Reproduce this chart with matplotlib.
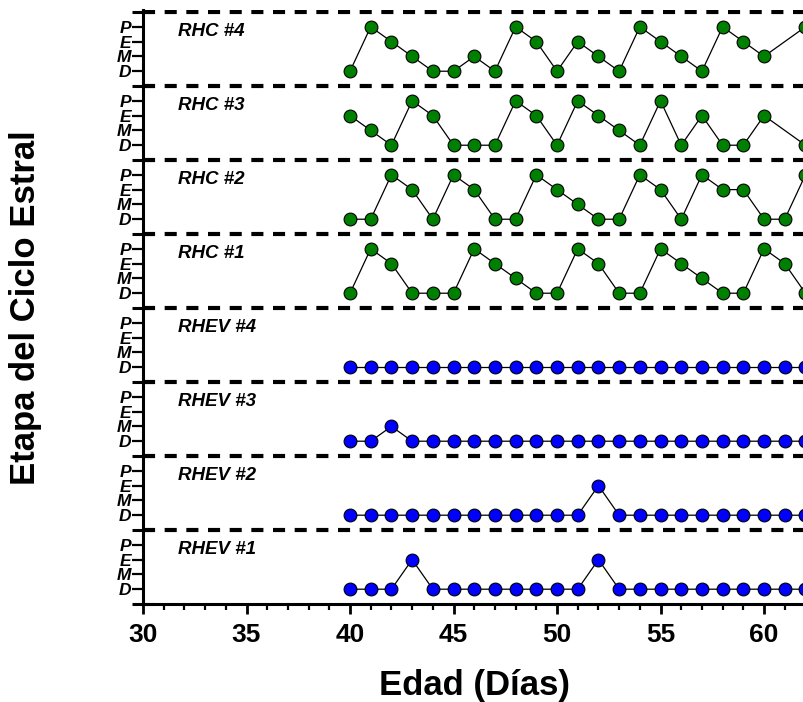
import numpy as np
import matplotlib
matplotlib.use("Agg")
import matplotlib.pyplot as plt

plt.rcParams['font.family'] = ['Liberation Sans', 'DejaVu Sans']

# days of observation and estrous stage per animal (None = no reading)
days = list(range(40, 63))
stages = ["D", "M", "E", "P"]

rhev_1 = ["D", "D", "D", "E", "D", "D", "D", "D", "D", "D", "D", "D", "E",
          "D", "D", "D", "D", "D", "D", "D", "D", "D", "D"]
rhev_2 = ["D", "D", "D", "D", "D", "D", "D", "D", "D", "D", "D", "D", "E",
          "D", "D", "D", "D", "D", "D", "D", "D", "D", "D"]
rhev_3 = ["D", "D", "M", "D", "D", "D", "D", "D", "D", "D", "D", "D", "D",
          "D", "D", "D", "D", "D", "D", "D", "D", "D", "D"]
rhev_4 = ["D"] * 23
rhc_1 = ["D", "P", "E", "D", "D", "D", "P", "E", "M", "D", "D", "P", "E",
         "D", "D", "P", "E", "M", "D", "D", "P", "E", "D"]
rhc_2 = ["D", "D", "P", "E", "D", "P", "E", "D", "D", "P", "E", "M", "D",
         "D", "P", "E", "D", "P", "E", "E", "D", "D", "P"]
rhc_3 = ["E", "M", "D", "P", "E", "D", "D", "D", "P", "E", "D", "P", "E",
         "M", "D", "P", "D", "E", "D", "D", "E", None, "D"]
rhc_4 = ["D", "P", "E", "M", "D", "D", "M", "D", "P", "E", "D", "E", "M",
         "D", "P", "E", "M", "D", "P", "E", "M", None, "P"]

# bottom to top
panels = [
    ("RHEV #1", rhev_1, "#0000ff"),
    ("RHEV #2", rhev_2, "#0000ff"),
    ("RHEV #3", rhev_3, "#0000ff"),
    ("RHEV #4", rhev_4, "#0000ff"),
    ("RHC #1", rhc_1, "#008000"),
    ("RHC #2", rhc_2, "#008000"),
    ("RHC #3", rhc_3, "#008000"),
    ("RHC #4", rhc_4, "#008000"),
]

fig = plt.figure(figsize=(8.04, 7.02), dpi=100)
ax = fig.add_axes([143 / 804, 1 - 604 / 702, 1 - 143 / 804, 594.2 / 702])

for i, (name, vals, color) in enumerate(panels):
    base = 5 * i
    x = [d for d, v in zip(days, vals) if v is not None]
    y = [base + 1 + stages.index(v) for v in vals if v is not None]
    ax.plot(x, y, color="black", lw=0.9, marker="o", ms=9.2,
            markerfacecolor=color, markeredgecolor="black", mew=0.8,
            clip_on=False, zorder=3)
    ax.text(31.7, base + 3.7, name, fontsize=13.5, fontweight="bold",
            fontstyle="italic", va="center", ha="left")
    ax.axhline(base + 5, color="black", lw=3,
               linestyle=(0, (2.9, 2.3)), zorder=2)

ax.set_xlim(30, 61.93)
ax.set_ylim(0, 40.15)

ax.spines["top"].set_visible(False)
ax.spines["right"].set_visible(False)
ax.spines["left"].set_linewidth(2.2)
ax.spines["bottom"].set_linewidth(2.2)

ax.set_xticks(np.arange(30, 61, 5))
ax.set_xticks(np.arange(30, 62, 1), minor=True)
ax.tick_params(axis="x", which="major", length=7, width=2, pad=7,
               labelsize=19)
ax.tick_params(axis="x", which="minor", length=4, width=1.6)
for lab in ax.get_xticklabels():
    lab.set_fontweight("bold")

ax.set_yticks(np.arange(0, 41, 5))
ax.set_yticklabels([])
minor_pos = [5 * i + 1 + k for i in range(len(panels)) for k in range(4)]
minor_lab = [s for i in range(len(panels)) for s in stages]
ax.set_yticks(minor_pos, minor=True)
ax.set_yticklabels(minor_lab, minor=True)
ax.tick_params(axis="y", which="major", direction="inout", length=16, width=2.2)
ax.tick_params(axis="y", which="minor", length=8, width=1.6, pad=0.5,
               labelsize=12.5)
for lab in ax.get_yticklabels(minor=True):
    lab.set_fontweight("bold")
    lab.set_fontstyle("italic")

fig.text(26 / 804, 1 - 308 / 702, "Etapa del Ciclo Estral", rotation=90,
         fontsize=25, fontweight="bold", ha="center", va="center")
fig.text(474.5 / 804, 1 - 695 / 702, "Edad (Días)", fontsize=25,
         fontweight="bold", ha="center", va="baseline")

fig.savefig("out.png", dpi=100)
